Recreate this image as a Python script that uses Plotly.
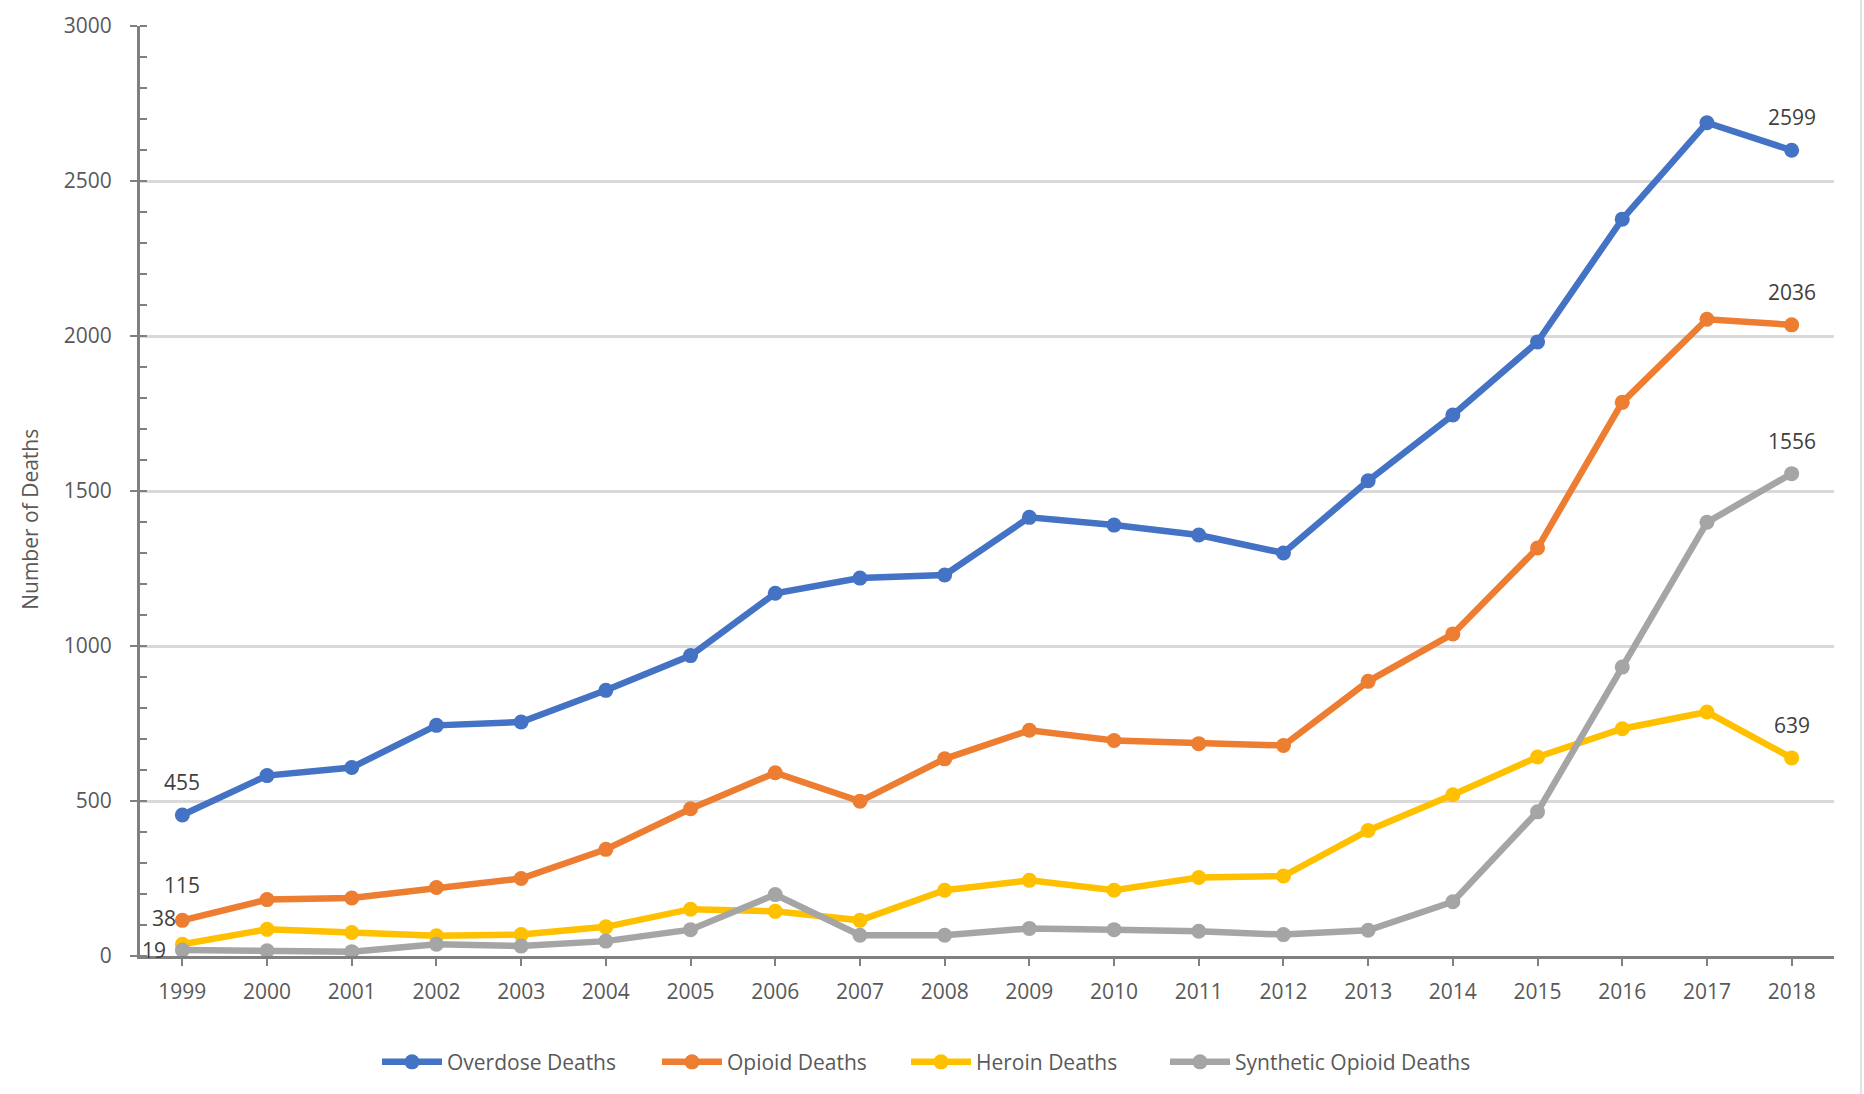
import plotly.graph_objects as go

years = [str(y) for y in range(1999, 2019)]

overdose = [455, 582, 608, 744, 755, 857, 969, 1170, 1219, 1229,
            1415, 1390, 1358, 1300, 1533, 1745, 1981, 2377, 2688, 2599]
opioid = [115, 182, 187, 221, 250, 344, 475, 591, 499, 636,
          728, 695, 685, 679, 886, 1039, 1316, 1786, 2054, 2036]
heroin = [38, 86, 76, 65, 69, 94, 151, 144, 115, 212,
          244, 212, 253, 258, 405, 520, 642, 733, 787, 639]
synthetic = [19, 17, 14, 38, 32, 48, 85, 198, 67, 67,
             89, 85, 80, 69, 83, 175, 465, 932, 1399, 1556]

series_names = ["Overdose Deaths", "Opioid Deaths", "Heroin Deaths", "Synthetic Opioid Deaths"]
series_values = [overdose, opioid, heroin, synthetic]
colors = ["#4472C4", "#ED7D31", "#FFC000", "#A5A5A5"]
legend_ids = ["legend", "legend2", "legend3", "legend4"]
legend_left_px = [383, 663, 912, 1171]

FONT = "Open Sans"
PLOT_L, PLOT_W = 140, 1694

fig = go.Figure()
for name, vals, col, lg in zip(series_names, series_values, colors, legend_ids):
    fig.add_trace(go.Scatter(
        x=years, y=vals, name=name, mode="lines+markers",
        line=dict(color=col, width=6.5),
        marker=dict(color=col, size=15),
        legend=lg,
    ))

label_font = dict(family=FONT, size=21, color="#404040")
annotations = []
first_shift = [(0, 33), (0, 35), (-18, 26), (-28, 0)]
last_idx = len(years) - 1
for (xs, ys), vals in zip(first_shift, series_values):
    annotations.append(dict(x=0, y=vals[0], xref="x", yref="y",
                            text=str(vals[0]), showarrow=False,
                            xshift=xs, yshift=ys, font=label_font))
for vals in series_values:
    annotations.append(dict(x=last_idx, y=vals[-1], xref="x", yref="y",
                            text=str(vals[-1]), showarrow=False,
                            xshift=0, yshift=33, font=label_font))

annotations.append(dict(x=-0.065, y=0.47, xref="paper", yref="paper",
                        xanchor="center", yanchor="middle",
                        text="Number of Deaths", textangle=-90, showarrow=False,
                        font=dict(family=FONT, size=21, color="#595959")))

layout_legends = {}
for lg, px in zip(legend_ids, legend_left_px):
    layout_legends[lg] = dict(
        orientation="h", x=(px - 6 - PLOT_L) / PLOT_W, xanchor="left",
        y=-0.113, yanchor="middle",
        font=dict(family=FONT, size=21, color="#595959"),
        itemwidth=60, bgcolor="rgba(0,0,0,0)",
    )

fig.update_layout(
    width=1864, height=1094, autosize=False,
    margin=dict(l=PLOT_L, r=30, t=26, b=137, pad=0),
    paper_bgcolor="white", plot_bgcolor="white",
    font=dict(family=FONT, size=21, color="#595959"),
    showlegend=True,
    annotations=annotations,
    shapes=[dict(type="line", xref="paper", yref="paper",
                 x0=1.0159, x1=1.0159, y0=-0.2, y1=1.05,
                 line=dict(color="#d9d9d9", width=1.5))],
    **layout_legends,
)

fig.update_xaxes(
    type="category", range=[-0.5, 19.5],
    showline=True, linecolor="#808080", linewidth=3,
    ticks="outside", ticklen=7, tickwidth=2, tickcolor="#808080",
    showgrid=False, zeroline=False,
    tickfont=dict(family=FONT, size=21, color="#595959"),
    ticklabelstandoff=8,
)
fig.update_yaxes(
    range=[0, 3000], tickvals=[0, 500, 1000, 1500, 2000, 2500, 3000],
    showline=True, linecolor="#808080", linewidth=3,
    ticks="outside", ticklen=7, tickwidth=2, tickcolor="#808080",
    showgrid=True, gridcolor="#d9d9d9", gridwidth=2.5,
    zeroline=False,
    minor=dict(ticks="inside", ticklen=7, tickwidth=2, tickcolor="#808080",
               dtick=100, showgrid=False),
    tickfont=dict(family=FONT, size=21, color="#595959"),
    ticklabelstandoff=14,
)

fig.write_html("out.html",
               config={"displayModeBar": False},
               post_script="document.body.style.margin='0';document.body.style.overflow='hidden';")
